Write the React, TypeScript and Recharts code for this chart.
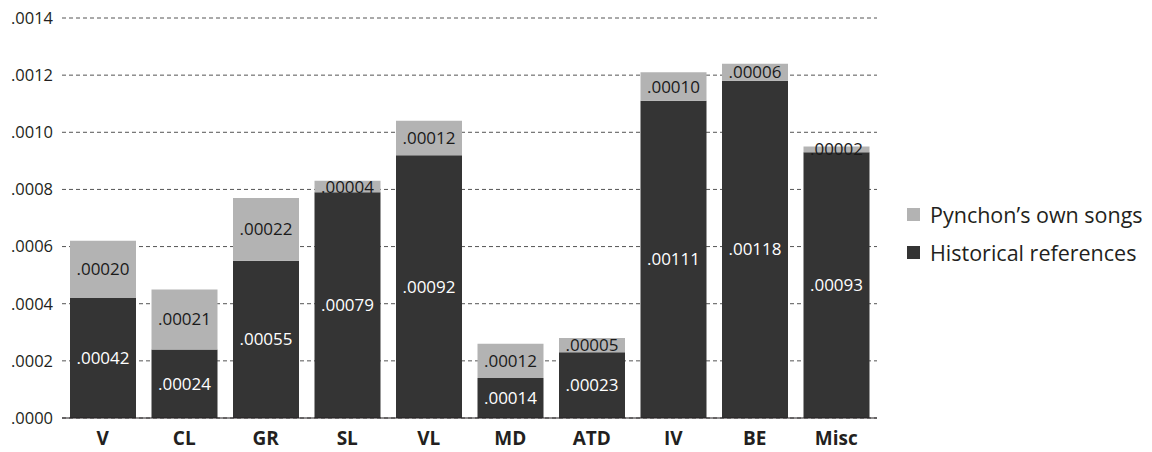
import { Bar, BarChart, CartesianGrid, LabelList, Legend, XAxis, YAxis } from "recharts";

const categories = ["V", "CL", "GR", "SL", "VL", "MD", "ATD", "IV", "BE", "Misc"];
const historical = [0.00042, 0.00024, 0.00055, 0.00079, 0.00092, 0.00014, 0.00023, 0.00111, 0.00118, 0.00093];
const ownSongs = [0.0002, 0.00021, 0.00022, 0.00004, 0.00012, 0.00012, 0.00005, 0.0001, 0.00006, 0.00002];
const yTicks = [0, 0.0002, 0.0004, 0.0006, 0.0008, 0.001, 0.0012, 0.0014];

const DARK = "#343434";
const GREY = "#b3b3b3";
const FONT = "'Open Sans', sans-serif";

const data = categories.map((name, i) => ({
  name,
  historical: historical[i],
  own: ownSongs[i],
}));

const fmtTick = (v: number) => v.toFixed(4).replace(/^0/, "");
const fmtLabel = (v: number) => Number(v).toFixed(5).replace(/^0/, "");

const legendItems = [
  { label: "Pynchon\u2019s own songs", color: GREY },
  { label: "Historical references", color: DARK },
];

const LegendContent = () => (
  <div style={{ fontFamily: FONT, fontSize: 21.5, color: "#231f20", whiteSpace: "nowrap" }}>
    {legendItems.map((it) => (
      <div key={it.label} style={{ display: "flex", alignItems: "center", height: 38 }}>
        <span
          style={{ width: 13, height: 13, background: it.color, display: "inline-block", marginRight: 10, flexShrink: 0 }}
        />
        <span>{it.label}</span>
      </div>
    ))}
  </div>
);

export default function App() {
  return (
    <div style={{ position: "absolute", left: 0, top: 0, width: 1152, height: 452, background: "#fff" }}>
      <BarChart
        width={1152}
        height={452}
        data={data}
        margin={{ top: 18, right: 30, bottom: 0, left: 0 }}
        barSize={66}
      >
        <CartesianGrid vertical={false} stroke="#555" strokeDasharray="4 3" />
        <XAxis
          dataKey="name"
          height={34}
          tickLine={false}
          tickSize={0}
          tickMargin={14}
          axisLine={{ stroke: "#231f20", strokeWidth: 1.2 }}
          tick={{ fontFamily: FONT, fontSize: 19, fontWeight: 700, fill: "#231f20" }}
          interval={0}
        />
        <YAxis
          width={62}
          domain={[0, 0.0014]}
          ticks={yTicks}
          tickFormatter={fmtTick}
          axisLine={false}
          tickLine={false}
          tickSize={0}
          tickMargin={9}
          tick={{ fontFamily: FONT, fontSize: 16.5, fill: "#231f20" }}
        />
        <Legend
          layout="vertical"
          align="right"
          verticalAlign="middle"
          content={<LegendContent />}
          wrapperStyle={{ width: 245, left: 907, top: 195 }}
        />
        <Bar dataKey="historical" stackId="a" fill={DARK} isAnimationActive={false} legendType="none">
          <LabelList
            dataKey="historical"
            position="center"
            formatter={fmtLabel}
            style={{ fontFamily: FONT, fontSize: 17, fill: "#ffffff" }}
          />
        </Bar>
        <Bar dataKey="own" stackId="a" fill={GREY} isAnimationActive={false} legendType="none">
          <LabelList
            dataKey="own"
            position="center"
            formatter={fmtLabel}
            style={{ fontFamily: FONT, fontSize: 17, fill: "#1a1a1a" }}
          />
        </Bar>
      </BarChart>
    </div>
  );
}
